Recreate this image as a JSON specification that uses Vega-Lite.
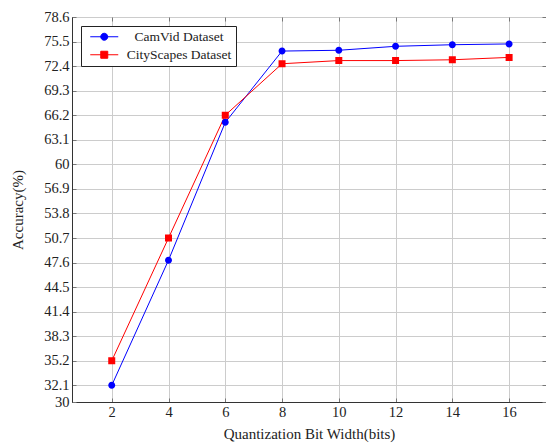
{
  "$schema": "https://vega.github.io/schema/vega-lite/v6.json",
  "autosize": {"type": "none"},
  "padding": {"left": 72, "top": 17, "right": 0, "bottom": 42},
  "width": 474,
  "height": 385,
  "data": {"values": [
    {"bits": 2, "acc": 32.1, "dataset": "CamVid Dataset"},
    {"bits": 4, "acc": 47.9, "dataset": "CamVid Dataset"},
    {"bits": 6, "acc": 65.3, "dataset": "CamVid Dataset"},
    {"bits": 8, "acc": 74.3, "dataset": "CamVid Dataset"},
    {"bits": 10, "acc": 74.4, "dataset": "CamVid Dataset"},
    {"bits": 12, "acc": 74.9, "dataset": "CamVid Dataset"},
    {"bits": 14, "acc": 75.1, "dataset": "CamVid Dataset"},
    {"bits": 16, "acc": 75.2, "dataset": "CamVid Dataset"},
    {"bits": 2, "acc": 35.2, "dataset": "CityScapes Dataset"},
    {"bits": 4, "acc": 50.7, "dataset": "CityScapes Dataset"},
    {"bits": 6, "acc": 66.2, "dataset": "CityScapes Dataset"},
    {"bits": 8, "acc": 72.7, "dataset": "CityScapes Dataset"},
    {"bits": 10, "acc": 73.1, "dataset": "CityScapes Dataset"},
    {"bits": 12, "acc": 73.1, "dataset": "CityScapes Dataset"},
    {"bits": 14, "acc": 73.2, "dataset": "CityScapes Dataset"},
    {"bits": 16, "acc": 73.5, "dataset": "CityScapes Dataset"}
  ]},
  "layer": [
    {
      "mark": {"type": "line", "strokeWidth": 1},
      "encoding": {
        "x": {"field": "bits", "type": "quantitative",
              "scale": {"domain": [0.6, 17.3], "nice": false, "zero": false},
              "axis": {"orient": "bottom", "values": [2, 4, 6, 8, 10, 12, 14, 16], "title": "Quantization Bit Width(bits)", "grid": true}},
        "y": {"field": "acc", "type": "quantitative",
              "scale": {"domain": [30, 78.6], "nice": false, "zero": false},
              "axis": {"orient": "left", "format": ".1~f", "values": [30, 32.1, 35.2, 38.3, 41.4, 44.5, 47.6, 50.7, 53.8, 56.9, 60, 63.1, 66.2, 69.3, 72.4, 75.5, 78.6], "title": "Accuracy(%)", "grid": true}},
        "color": {"field": "dataset", "type": "nominal",
                   "scale": {"domain": ["CamVid Dataset", "CityScapes Dataset"], "range": ["#0000ff", "#ff0000"]},
                   "legend": {"title": null, "orient": "top-left"}}
      }
    },
    {
      "mark": {"type": "point", "filled": true, "size": 49, "opacity": 1},
      "encoding": {
        "x": {"field": "bits", "type": "quantitative",
              "axis": {"orient": "top", "values": [2, 4, 6, 8, 10, 12, 14, 16], "labels": false, "title": null, "grid": false, "domain": false}},
        "y": {"field": "acc", "type": "quantitative",
              "axis": {"orient": "right", "values": [30, 32.1, 35.2, 38.3, 41.4, 44.5, 47.6, 50.7, 53.8, 56.9, 60, 63.1, 66.2, 69.3, 72.4, 75.5, 78.6], "labels": false, "title": null, "grid": false, "domain": false}},
        "color": {"field": "dataset", "type": "nominal",
                  "legend": {"title": null, "orient": "top-left"}},
        "shape": {"field": "dataset", "type": "nominal",
                  "scale": {"domain": ["CamVid Dataset", "CityScapes Dataset"],
                            "range": ["M-1,0A1,1 0 1,1 1,0A1,1 0 1,1 -1,0Z M-4,0H4", "M-1,-1H1V1H-1Z M-4,0H4"]},
                  "legend": null}
      }
    }
  ],
  "resolve": {"axis": {"x": "independent", "y": "independent"}},
  "config": {
    "font": "Liberation Serif",
    "view": {"stroke": "#333333", "strokeWidth": 1},
    "axis": {
      "labelFontSize": 14.5,
      "labelColor": "#222222",
      "titleFontSize": 15,
      "titleFontWeight": "normal",
      "titleColor": "#222222",
      "gridColor": "#cccccc",
      "gridWidth": 1,
      "gridOpacity": 1,
      "domainColor": "#333333",
      "domainWidth": 1,
      "tickColor": "#777777",
      "tickSize": -4,
      "tickWidth": 1
    },
    "axisBottom": {"labelPadding": 7, "titlePadding": 8},
    "axisLeft": {"labelPadding": 7, "titlePadding": 18, "labelOverlap": false},
    "axisRight": {"labelOverlap": false},
    "legend": {
      "offset": 9,
      "labelFontSize": 13.5,
      "labelColor": "#222222",
      "strokeColor": "#222222",
      "fillColor": "#ffffff",
      "padding": 4,
      "rowPadding": 3,
      "symbolSize": 49,
      "symbolStrokeWidth": 1,
      "symbolOffset": 12.5,
      "labelAlign": "center",
      "labelOffset": 68,
      "labelLimit": 300,
      "symbolType": "circle"
    }
  }
}
